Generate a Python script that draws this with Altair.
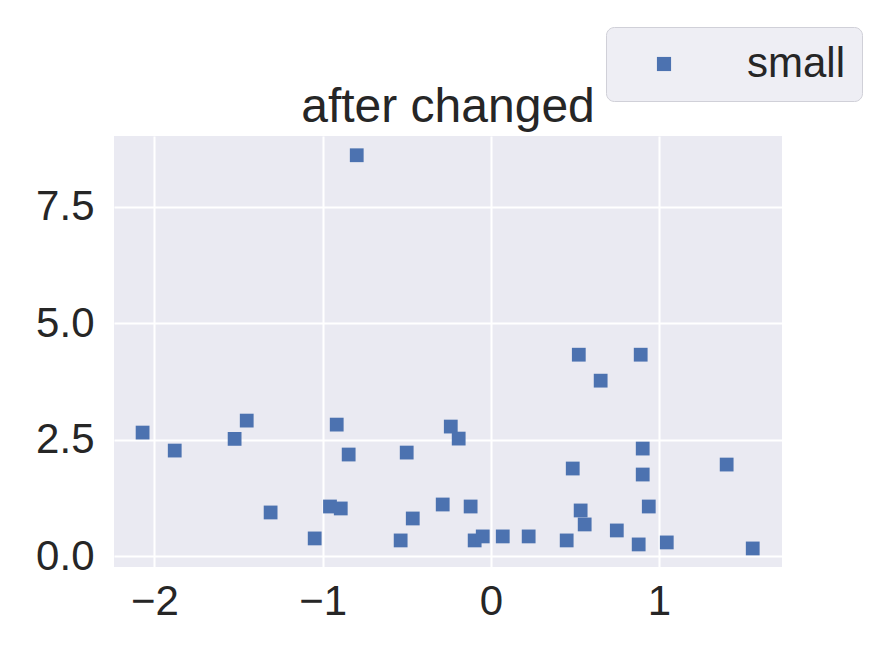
import altair as alt
import pandas as pd

x_vals = [-2.070, -1.879, -1.523, -1.451, -1.309, -1.047, -0.956, -0.892, -0.916, -0.845,
          -0.797, -0.536, -0.500, -0.464, -0.286, -0.238, -0.191, -0.120, -0.096, -0.048,
          0.071, 0.225, 0.451, 0.487, 0.523, 0.891, 0.653, 0.903, 0.903, 1.402,
          0.534, 0.558, 0.939, 0.749, 0.879, 1.046, 1.557]
y_vals = [2.657, 2.271, 2.522, 2.914, 0.943, 0.386, 1.071, 1.029, 2.828, 2.186,
          8.607, 0.343, 2.228, 0.814, 1.114, 2.786, 2.528, 1.071, 0.343, 0.429,
          0.429, 0.429, 0.343, 1.886, 4.328, 4.328, 3.771, 2.314, 1.757, 1.971,
          0.986, 0.686, 1.071, 0.557, 0.257, 0.300, 0.171]
series = ["small"] * len(x_vals)
x_ticks = [-2, -1, 0, 1]
y_ticks = [0, 2.5, 5.0, 7.5]

df = pd.DataFrame({"x": x_vals, "y": y_vals, "series": series})

FONT = "Liberation Sans"
TXT = "#262626"

chart = alt.Chart(df).mark_point(shape="square", filled=True, size=190, opacity=1, strokeWidth=0).encode(
    x=alt.X("x:Q", scale=alt.Scale(domain=[-2.24, 1.731], nice=False, zero=False),
            axis=alt.Axis(values=x_ticks, format="d", title=None, ticks=False, domain=False,
                          grid=True, labelFontSize=42, labelPadding=14, labelColor=TXT, labelFont=FONT,
                          gridColor="white", gridWidth=2, gridOpacity=1, labelFlush=False)),
    y=alt.Y("y:Q", scale=alt.Scale(domain=[-0.227, 9.02], nice=False, zero=False),
            axis=alt.Axis(values=y_ticks, format=".1f", title=None, ticks=False, domain=False,
                          grid=True, labelFontSize=42, labelPadding=20, labelColor=TXT, labelFont=FONT,
                          gridColor="white", gridWidth=2, gridOpacity=1, labelFlush=False)),
    color=alt.Color("series:N", scale=alt.Scale(domain=["small"], range=["#4C72B0"]),
                    legend=alt.Legend(title=None, orient="none", legendX=492, legendY=-109,
                                      padding=16, symbolOffset=21, labelOffset=62,
                                      symbolType="square", symbolSize=200, symbolStrokeWidth=0,
                                      labelFontSize=42, labelFont=FONT, labelColor=TXT,
                                      fillColor="#EEEEF4", strokeColor="#D0D0D8", cornerRadius=8)),
).properties(
    width=668, height=431,
    background="white",
    title=alt.TitleParams("after changed", fontSize=48, font=FONT, color=TXT,
                          fontWeight="normal", anchor="middle", offset=6, dy=111),
    autosize=alt.AutoSizeParams(type="none"),
    padding={"left": 106, "top": 128, "right": 94, "bottom": 77},
).configure_view(fill="#EAEAF2", strokeWidth=0)

chart.save("out.html", embed_options={"renderer": "svg", "actions": False})
